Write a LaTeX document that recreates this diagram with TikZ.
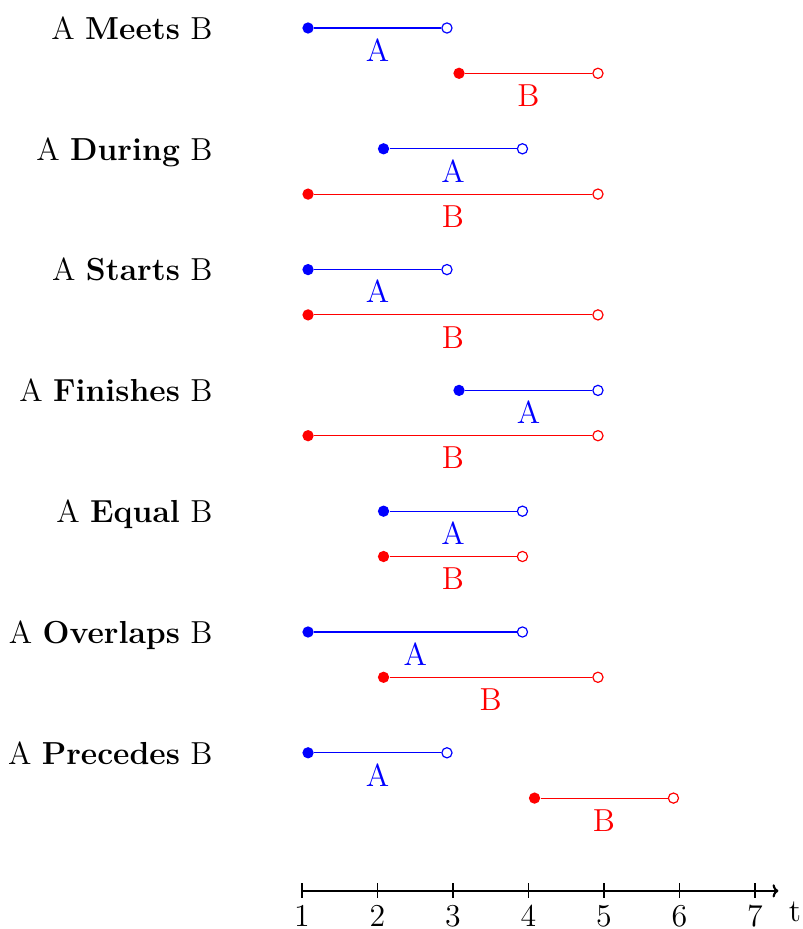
\documentclass[tikz,border=0pt]{standalone}
\usetikzlibrary{arrows.meta}
\begin{document}
\begin{tikzpicture}[
  font=\large,
  startdot/.style={circle, fill=#1, inner sep=0pt, minimum size=0.15cm},
  enddot/.style={circle, draw=#1, fill=white, line width=0.45pt, inner sep=0pt, minimum size=0.135cm},
  seg/.style={draw=#1, line width=0.4pt},
  ivlabel/.style={text=#1, anchor=base, inner sep=0pt},
  rowlabel/.style={anchor=base east, inner sep=0pt},
  ticklabel/.style={anchor=base, inner sep=0pt},
]
\useasboundingbox (0,0) rectangle (10.636,-12.305);
\foreach \i/\rel/\asx/\aex/\bsx/\bex in {
  1/Meets/4.08/5.92/6.08/7.92,
  2/During/5.08/6.92/4.08/7.92,
  3/Starts/4.08/5.92/4.08/7.92,
  4/Finishes/6.08/7.92/4.08/7.92,
  5/Equal/5.08/6.92/5.08/6.92,
  6/Overlaps/4.08/6.92/5.08/7.92,
  7/Precedes/4.08/5.92/7.08/8.92}{
  \pgfmathsetmacro\ya{-0.371-1.6*(\i-1)}
  \pgfmathsetmacro\yb{\ya-0.6}
  \pgfmathsetmacro\am{(\asx+\aex)/2}
  \pgfmathsetmacro\bm{(\bsx+\bex)/2}
  \node[rowlabel] (lab\i) at (2.82,\ya-0.15) {A \textbf{\rel} B};
  \node[startdot=blue] (as\i) at (\asx,\ya) {};
  \node[enddot=blue] (ae\i) at (\aex,\ya) {};
  \draw[seg=blue] (as\i) -- (ae\i);
  \node[ivlabel=blue] (al\i) at (\am,\ya-0.44) {A};
  \node[startdot=red] (bs\i) at (\bsx,\yb) {};
  \node[enddot=red] (be\i) at (\bex,\yb) {};
  \draw[seg=red] (bs\i) -- (be\i);
  \node[ivlabel=red] (bl\i) at (\bm,\yb-0.44) {B};
}
\coordinate (axs) at (4,-11.8);
\coordinate (axe) at (10.31,-11.8);
\draw[line width=0.8pt, -{To[length=2.2pt,width=5pt]}] (axs) -- (axe);
\foreach \v in {1,...,7}{
  \coordinate (tk\v) at (\v+3,-11.8);
  \draw[line width=0.4pt] ([yshift=0.1cm]tk\v) -- ([yshift=-0.1cm]tk\v);
  \node[ticklabel] (tl\v) at (\v+3,-12.27) {\v};
}
\node[ticklabel] (tlab) at (10.53,-12.2) {t};
\end{tikzpicture}
\end{document}
